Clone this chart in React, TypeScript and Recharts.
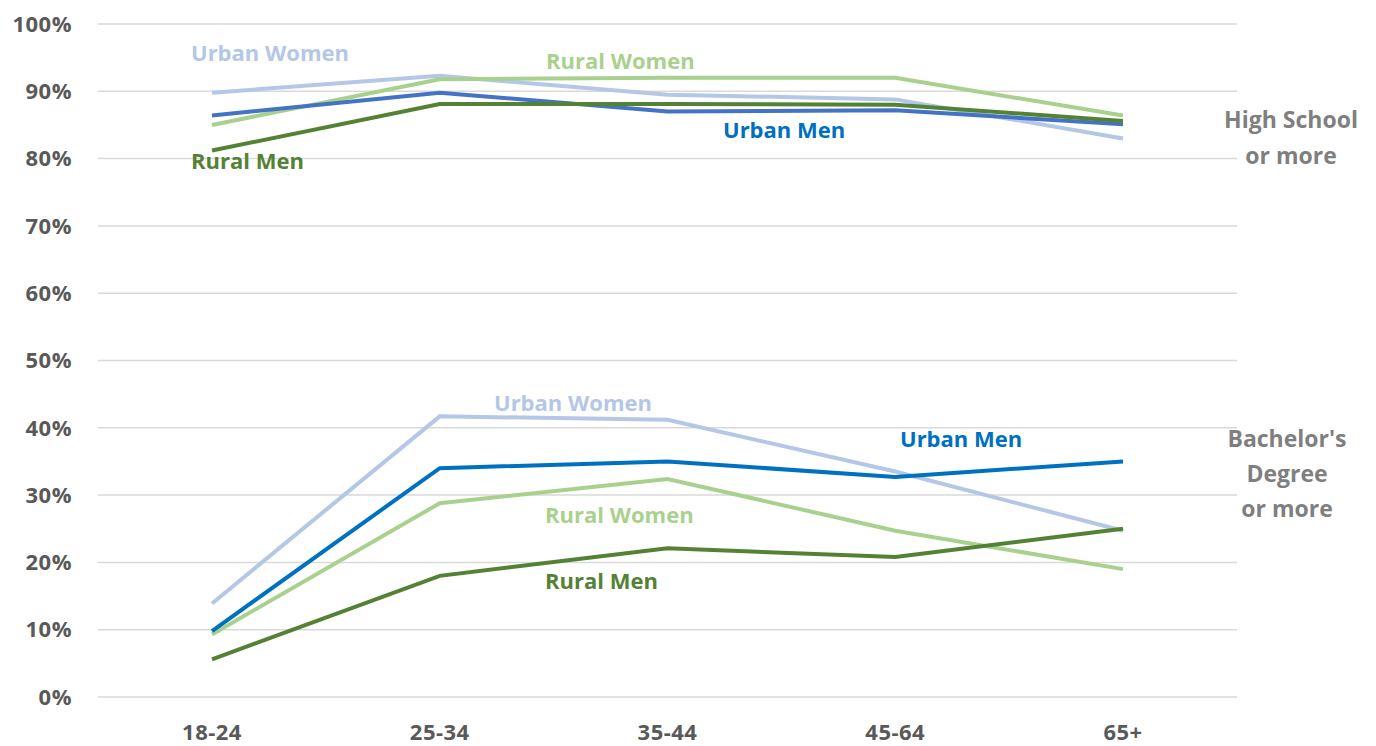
import { LineChart, Line, XAxis, YAxis, CartesianGrid } from "recharts";

const ageGroups = ["18-24", "25-34", "35-44", "45-64", "65+"];
const yTicks = [0, 10, 20, 30, 40, 50, 60, 70, 80, 90, 100];

// High school or more (%)
const hsUrbanWomen = [89.8, 92.3, 89.5, 88.8, 83.0];
const hsRuralWomen = [85.0, 91.8, 92.0, 92.0, 86.4];
const hsUrbanMen = [86.4, 89.8, 87.0, 87.2, 85.1];
const hsRuralMen = [81.2, 88.1, 88.1, 88.0, 85.6];

// Bachelor's degree or more (%)
const baUrbanWomen = [13.9, 41.7, 41.2, 33.5, 24.7];
const baRuralWomen = [9.3, 28.8, 32.4, 24.7, 19.0];
const baUrbanMen = [9.8, 34.0, 35.0, 32.7, 35.0];
const baRuralMen = [5.6, 18.0, 22.1, 20.8, 25.0];

const C_URBAN_WOMEN = "#B4C7E7";
const C_RURAL_WOMEN = "#A9D18E";
const C_URBAN_MEN_HS = "#4472C4";
const C_URBAN_MEN = "#0070C0";
const C_RURAL_MEN = "#548235";
const C_TICK = "#595959";
const C_NOTE = "#7F7F7F";

const FONT = "'Open Sans', Lato, sans-serif";

const data = ageGroups.map((age, i) => ({
  age,
  hsUW: hsUrbanWomen[i],
  hsRW: hsRuralWomen[i],
  hsUM: hsUrbanMen[i],
  hsRM: hsRuralMen[i],
  baUW: baUrbanWomen[i],
  baRW: baRuralWomen[i],
  baUM: baUrbanMen[i],
  baRM: baRuralMen[i],
}));

const series = [
  { key: "hsUW", color: C_URBAN_WOMEN },
  { key: "hsRW", color: C_RURAL_WOMEN },
  { key: "hsUM", color: C_URBAN_MEN_HS },
  { key: "hsRM", color: C_RURAL_MEN },
  { key: "baUW", color: C_URBAN_WOMEN },
  { key: "baRW", color: C_RURAL_WOMEN },
  { key: "baUM", color: C_URBAN_MEN },
  { key: "baRM", color: C_RURAL_MEN },
];

const labels = [
  { text: "Urban Women", color: C_URBAN_WOMEN, left: 183, top: 32 },
  { text: "Rural Women", color: C_RURAL_WOMEN, left: 538, top: 40 },
  { text: "Urban Men", color: C_URBAN_MEN, left: 715, top: 109 },
  { text: "Rural Men", color: C_RURAL_MEN, left: 183, top: 140 },
  { text: "Urban Women", color: C_URBAN_WOMEN, left: 486, top: 382 },
  { text: "Urban Men", color: C_URBAN_MEN, left: 892, top: 418 },
  { text: "Rural Women", color: C_RURAL_WOMEN, left: 537, top: 494 },
  { text: "Rural Men", color: C_RURAL_MEN, left: 537, top: 560 },
];

const YTick = (props: any) => {
  const { x, y, payload } = props;
  return (
    <text x={x - 18} y={y} dy="0.35em" textAnchor="end" fill={C_TICK} fontSize={22} fontWeight={700} fontFamily={FONT} letterSpacing={0.5}>
      {payload.value}%
    </text>
  );
};

const XTick = (props: any) => {
  const { x, y, payload } = props;
  return (
    <text x={x} y={y + 27} dy="0.35em" textAnchor="middle" fill={C_TICK} fontSize={22} fontWeight={700} fontFamily={FONT} letterSpacing={0.5}>
      {payload.value}
    </text>
  );
};

const labelStyle = {
  position: "absolute" as const,
  fontSize: 22,
  fontWeight: 700,
  lineHeight: "24px",
  whiteSpace: "nowrap" as const,
};

export default function App() {
  return (
    <div style={{ position: "relative", width: 1360, height: 738, fontFamily: FONT, background: "#fff" }}>
      <LineChart width={1360} height={738} data={data} margin={{ top: 16, right: 131, left: 0, bottom: 0 }}>
        <CartesianGrid vertical={false} stroke="#D9D9D9" strokeWidth={1.5} />
        <XAxis
          dataKey="age"
          axisLine={false}
          tickLine={false}
          height={49}
          tick={<XTick />}
          interval={0}
          padding={{ left: 114, right: 114 }}
        />
        <YAxis
          domain={[0, 100]}
          ticks={yTicks}
          axisLine={false}
          tickLine={false}
          width={90}
          tick={<YTick />}
          interval={0}
        />
        {series.map((s) => (
          <Line
            key={s.key}
            type="linear"
            dataKey={s.key}
            stroke={s.color}
            strokeWidth={4}
            dot={false}
            activeDot={false}
            isAnimationActive={false}
          />
        ))}
      </LineChart>
      {labels.map((l, i) => (
        <div key={i} style={{ ...labelStyle, left: l.left, top: l.top, color: l.color }}>
          {l.text}
        </div>
      ))}
      <div
        style={{
          position: "absolute",
          left: 1193,
          top: 93,
          width: 180,
          textAlign: "center",
          color: C_NOTE,
          fontSize: 23,
          fontWeight: 700,
          lineHeight: "36px",
        }}
      >
        High School
        <br />
        or more
      </div>
      <div
        style={{
          position: "absolute",
          left: 1189,
          top: 413,
          width: 180,
          textAlign: "center",
          color: C_NOTE,
          fontSize: 23,
          fontWeight: 700,
          lineHeight: "35px",
        }}
      >
        Bachelor's
        <br />
        Degree
        <br />
        or more
      </div>
    </div>
  );
}
